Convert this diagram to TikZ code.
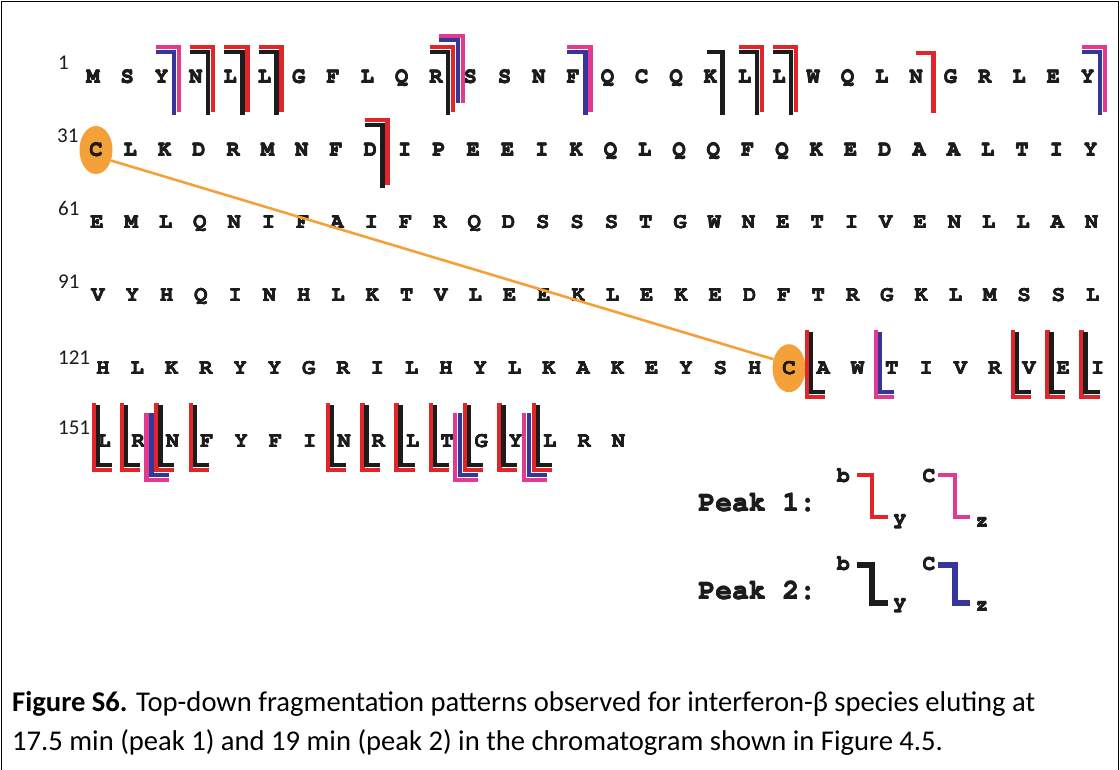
\documentclass[tikz,border=0pt]{standalone}
\usepackage[T1]{fontenc}
\usepackage{fontspec}
\usetikzlibrary{shapes.geometric}
\newfontfamily\capfont{Carlito}
\newcommand\courb{\fontencoding{T1}\fontfamily{pcr}\fontseries{b}\fontshape{n}\selectfont}
% heavier strokes for the typewriter letters: overprint with small shifts
\newcommand\heavy[1]{\leavevmode\rlap{#1}\rlap{\kern0.35pt#1}\rlap{\raisebox{0.3pt}{\kern0.35pt#1}}\kern0.7pt#1}

\definecolor{pkred}{HTML}{E1262B}
\definecolor{pkblk}{HTML}{1C1C1C}
\definecolor{pkblu}{HTML}{36359A}
\definecolor{pkmag}{HTML}{E23A90}
\definecolor{pkorg}{HTML}{F5A13A}

% row geometry: first residue x and centre line y of each sequence row
\newcommand\rowx[1]{\ifcase#1\or93\or96\or97\or98\or103\or104\fi}
\newcommand\rowc[1]{\ifcase#1\or77\or149.8\or222.6\or295.4\or368.2\or441\fi}

% one residue row
\newcommand\seqrow[2]{%
  \edef\pkx{\rowx{#1}}\edef\pkcc{\rowc{#1}}%
  \foreach \ch [count=\i] in {#2} {%
    \node[res] (r#1-\i) at ({\pkx+34.3*(\i-1)},{\pkcc+6.3}) {\heavy{\ch}};}}

% N-terminal (b/c) hook: colour, mid x, centre y, dx vertical, dx bar start, dy top, dy bottom
\newcommand\pkN[7]{\draw[pkstroke,#1] ({#2+(#5)},{#3+(#6)}) -- ({#2+(#4)},{#3+(#6)}) -- ({#2+(#4)},{#3+(#7)});}
% C-terminal (y/z) hook: colour, mid x, centre y, dx vertical, dx bar end, dy top, dy bottom
\newcommand\pkC[7]{\draw[pkstroke,#1] ({#2+(#4)},{#3+(#6)}) -- ({#2+(#4)},{#3+(#7)}) -- ({#2+(#5)},{#3+(#7)});}

\newcommand\Nb[2]{\pkN{pkred}{#1}{#2}{0}{-23}{-30}{35}\pkN{pkblk}{#1}{#2}{-5}{-23}{-25}{38}}
\newcommand\Nc[2]{\pkN{pkmag}{#1}{#2}{0}{-23}{-30}{35}\pkN{pkblu}{#1}{#2}{-5}{-23}{-25}{38}}
\newcommand\Nbc[2]{\pkN{pkmag}{#1}{#2}{10}{-14}{-41}{26}\pkN{pkblu}{#1}{#2}{5}{-14}{-37}{26}\Nb{#1}{#2}}
\newcommand\Nk[2]{\pkN{pkblk}{#1}{#2}{-5}{-21}{-25}{38}}
\newcommand\Nr[2]{\pkN{pkred}{#1}{#2}{0}{-17}{-24}{36}}

\newcommand\Cy[2]{\pkC{pkred}{#1}{#2}{1}{19}{-38}{29}\pkC{pkblk}{#1}{#2}{5}{19}{-36}{24}}
\newcommand\Cz[2]{\pkC{pkmag}{#1}{#2}{1}{19}{-38}{29}\pkC{pkblu}{#1}{#2}{5}{19}{-36}{24}}
\newcommand\Cyz[2]{\pkC{pkmag}{#1}{#2}{-9}{14}{-28}{39}\pkC{pkblu}{#1}{#2}{-4}{14}{-28}{34}\Cy{#1}{#2}}

% cleavage after / before residue #3 of row #2
\newcommand\Nat[3]{\edef\pkx{\rowx{#2}}\edef\pkcc{\rowc{#2}}%
  \pgfmathsetmacro\pkm{\pkx+34.3*(#3-1)+17.15}\csname#1\endcsname{\pkm}{\pkcc}}
\newcommand\Cat[3]{\edef\pkx{\rowx{#2}}\edef\pkcc{\rowc{#2}}%
  \pgfmathsetmacro\pkm{\pkx+34.3*(#3-1)-17.15}\csname#1\endcsname{\pkm}{\pkcc}}

\begin{document}
\begin{tikzpicture}[x=1pt,y=-1pt,
  res/.style={font=\courb\fontsize{22}{22}\selectfont, inner sep=0pt, anchor=base, text=pkblk},
  num/.style={font=\capfont\fontsize{21}{21}\selectfont, inner sep=0pt, anchor=base west, text=pkblk},
  pkstroke/.style={line width=4.5pt, line join=miter},
  legtext/.style={font=\courb\fontsize{28}{28}\selectfont, inner sep=0pt, anchor=base west, text=pkblk},
  legsmall/.style={font=\courb\fontsize{21}{21}\selectfont, inner sep=0pt, anchor=base, text=pkblk},
  capt/.style={font=\capfont\fontsize{28.6}{32}\selectfont, inner sep=0pt, anchor=base west, text=black},
  disulfide/.style={ellipse, fill=pkorg, draw=none, minimum width=33pt, minimum height=48pt, inner sep=0pt}]

\useasboundingbox (0,0) rectangle (1120,770);
\fill[white] (0,0) rectangle (1120,770);
\draw[line width=1.5pt] (1.5,770) -- (1.5,1.5) -- (1118.5,1.5) -- (1118.5,770);

% disulfide-bonded cysteines
\node[disulfide] (cysA) at (96,150) {};
\node[disulfide] (cysB) at (789,368.2) {};

% residue numbers
\node[num] (n1) at (58,70) {1};
\node[num] (n31) at (57,143) {31};
\node[num] (n61) at (58,216) {61};
\node[num] (n91) at (58,289) {91};
\node[num] (n121) at (58,364) {121};
\node[num] (n151) at (58,434) {151};

% sequence
\seqrow{1}{M,S,Y,N,L,L,G,F,L,Q,R,S,S,N,F,Q,C,Q,K,L,L,W,Q,L,N,G,R,L,E,Y}
\seqrow{2}{C,L,K,D,R,M,N,F,D,I,P,E,E,I,K,Q,L,Q,Q,F,Q,K,E,D,A,A,L,T,I,Y}
\seqrow{3}{E,M,L,Q,N,I,F,A,I,F,R,Q,D,S,S,S,T,G,W,N,E,T,I,V,E,N,L,L,A,N}
\seqrow{4}{V,Y,H,Q,I,N,H,L,K,T,V,L,E,E,K,L,E,K,E,D,F,T,R,G,K,L,M,S,S,L}
\seqrow{5}{H,L,K,R,Y,Y,G,R,I,L,H,Y,L,K,A,K,E,Y,S,H,C,A,W,T,I,V,R,V,E,I}
\seqrow{6}{L,R,N,F,Y,F,I,N,R,L,T,G,Y,L,R,N}

% N-terminal fragments
\Nat{Nc}{1}{3}
\Nat{Nb}{1}{4}
\Nat{Nb}{1}{5}
\Nat{Nb}{1}{6}
\Nat{Nbc}{1}{11}
\Nat{Nc}{1}{15}
\Nat{Nk}{1}{19}
\Nat{Nb}{1}{20}
\Nat{Nb}{1}{21}
\Nat{Nr}{1}{25}
\Nat{Nc}{1}{30}
\Nat{Nb}{2}{9}

% C-terminal fragments
\Cat{Cy}{5}{22}
\Cat{Cz}{5}{24}
\Cat{Cy}{5}{28}
\Cat{Cy}{5}{29}
\Cat{Cy}{5}{30}
\Cy{93}{441}
\Cat{Cy}{6}{2}
\Cat{Cyz}{6}{3}
\Cat{Cy}{6}{4}
\Cat{Cy}{6}{8}
\Cat{Cy}{6}{9}
\Cat{Cy}{6}{10}
\Cat{Cy}{6}{11}
\Cat{Cyz}{6}{12}
\Cat{Cy}{6}{13}
\Cat{Cyz}{6}{14}

% disulfide bond
\draw[pkorg, line width=2.6pt] (cysA.-35) -- (cysB.150);

% legend
\node[legtext] (pk1) at (698,511) {\heavy{Peak 1:}};
\node[legtext] (pk2) at (698,599) {\heavy{Peak 2:}};
\node[legsmall] (b1) at (843.5,482) {\heavy{b}};
\node[legsmall] (y1) at (900,524) {\heavy{y}};
\node[legsmall] (c1) at (929,482) {\heavy{C}};
\node[legsmall] (z1) at (982,527) {\heavy{z}};
\node[legsmall] (b2) at (843.5,570) {\heavy{b}};
\node[legsmall] (y2) at (900,608) {\heavy{y}};
\node[legsmall] (c2) at (929,570) {\heavy{C}};
\node[legsmall] (z2) at (982,611) {\heavy{z}};
\draw[pkred, line width=4.5pt] (857,475) -- (872,475) -- (872,517) -- (888,517);
\draw[pkmag, line width=4.5pt] (938,475) -- (955,475) -- (955,517) -- (970,517);
\draw[pkblk, line width=5.5pt] (857,565) -- (872,565) -- (872,603) -- (888,603);
\draw[pkblu, line width=5.5pt] (938,565) -- (955,565) -- (955,603) -- (970,603);

% caption
\node[capt] (cap1) at (12,711) {\textbf{Figure S6.} Top-down fragmentation patterns observed for interferon-β species eluting at};
\node[capt] (cap2) at (12,750) {17.5 min (peak 1) and 19 min (peak 2) in the chromatogram shown in Figure 4.5.};
\end{tikzpicture}
\end{document}
